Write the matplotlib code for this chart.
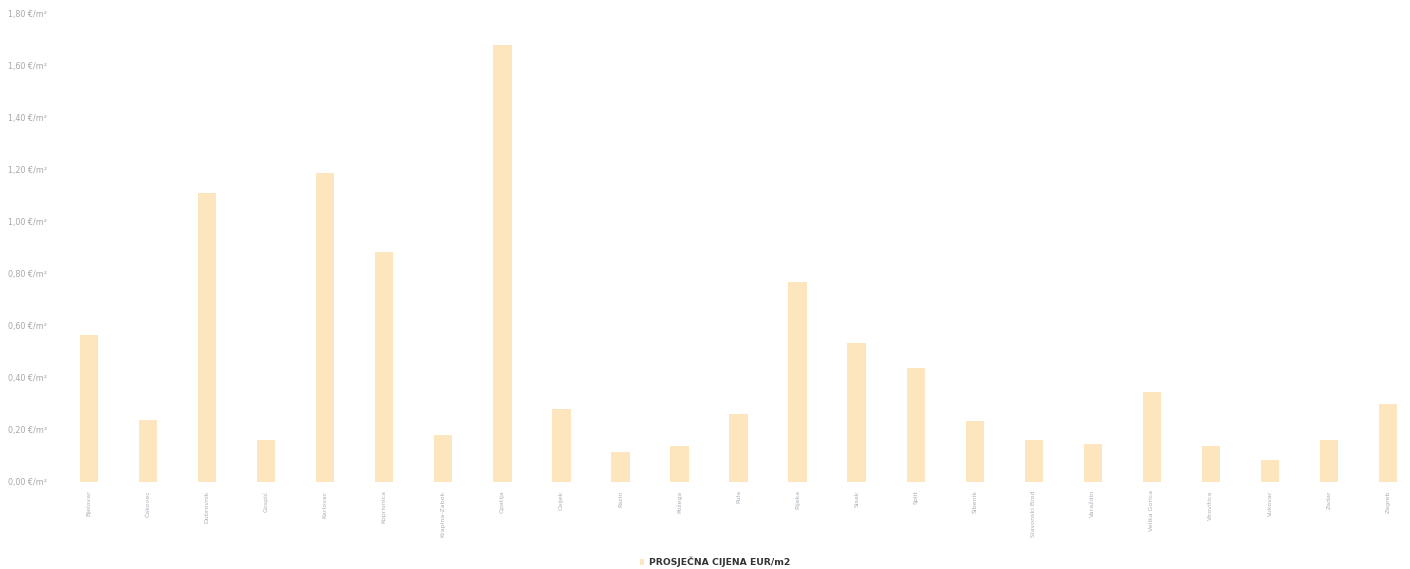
import numpy as np
import matplotlib
matplotlib.use('Agg')
import matplotlib.pyplot as plt

# podaci procitani sa slike (naslov i nazivi kategorija su nejasni, procjena)
categories = ['Bjelovar', 'Čakovec', 'Dubrovnik', 'Gospić', 'Karlovac', 'Koprivnica',
              'Krapina-Zabok', 'Opatija', 'Osijek', 'Pazin', 'Požega', 'Pula',
              'Rijeka', 'Sisak', 'Split', 'Šibenik', 'Slavonski Brod', 'Varaždin',
              'Velika Gorica', 'Virovitica', 'Vukovar', 'Zadar', 'Zagreb']
prices = [0.565, 0.24, 1.11, 0.16, 1.19, 0.885, 0.18, 1.68, 0.28, 0.115, 0.14, 0.26,
          0.77, 0.535, 0.44, 0.235, 0.16, 0.145, 0.345, 0.14, 0.085, 0.16, 0.30]
y_ticks = [0.0, 0.2, 0.4, 0.6, 0.8, 1.0, 1.2, 1.4, 1.6, 1.8]
series_name = 'PROSJEČNA CIJENA EUR/m2'

W, H = 1410, 569
fig = plt.figure(figsize=(W / 100, H / 100), dpi=100)
ax = fig.add_axes([59.5 / W, (H - 482) / H, (1417.6 - 59.5) / W, (482 - 14) / H])

x = np.arange(len(categories))
ax.bar(x, prices, width=0.31, color='#fde5bd', label=series_name)

ax.set_xlim(-0.5, len(categories) - 0.5)
ax.set_ylim(0, 1.8)
ax.set_yticks(y_ticks)
ax.set_yticklabels([('%.2f' % v).replace('.', ',') + ' €/m²' for v in y_ticks],
                   fontsize=5.8, color='#a8a8a8', ha='left')
ax.tick_params(axis='y', length=0, pad=37)
ax.set_xticks(x)
ax.set_xticklabels(categories, rotation=90, fontsize=4.5, color='#a8b0b8')
ax.tick_params(axis='x', length=0, pad=6)
for s in ax.spines.values():
    s.set_visible(False)

fig.legend(loc='lower center', bbox_to_anchor=(0.507, -0.012), frameon=False,
           handlelength=0.5, handleheight=0.5, handletextpad=0.5,
           prop={'size': 6.7, 'weight': 'bold'}, labelcolor='#333333')

fig.savefig('out.png', dpi=100)
